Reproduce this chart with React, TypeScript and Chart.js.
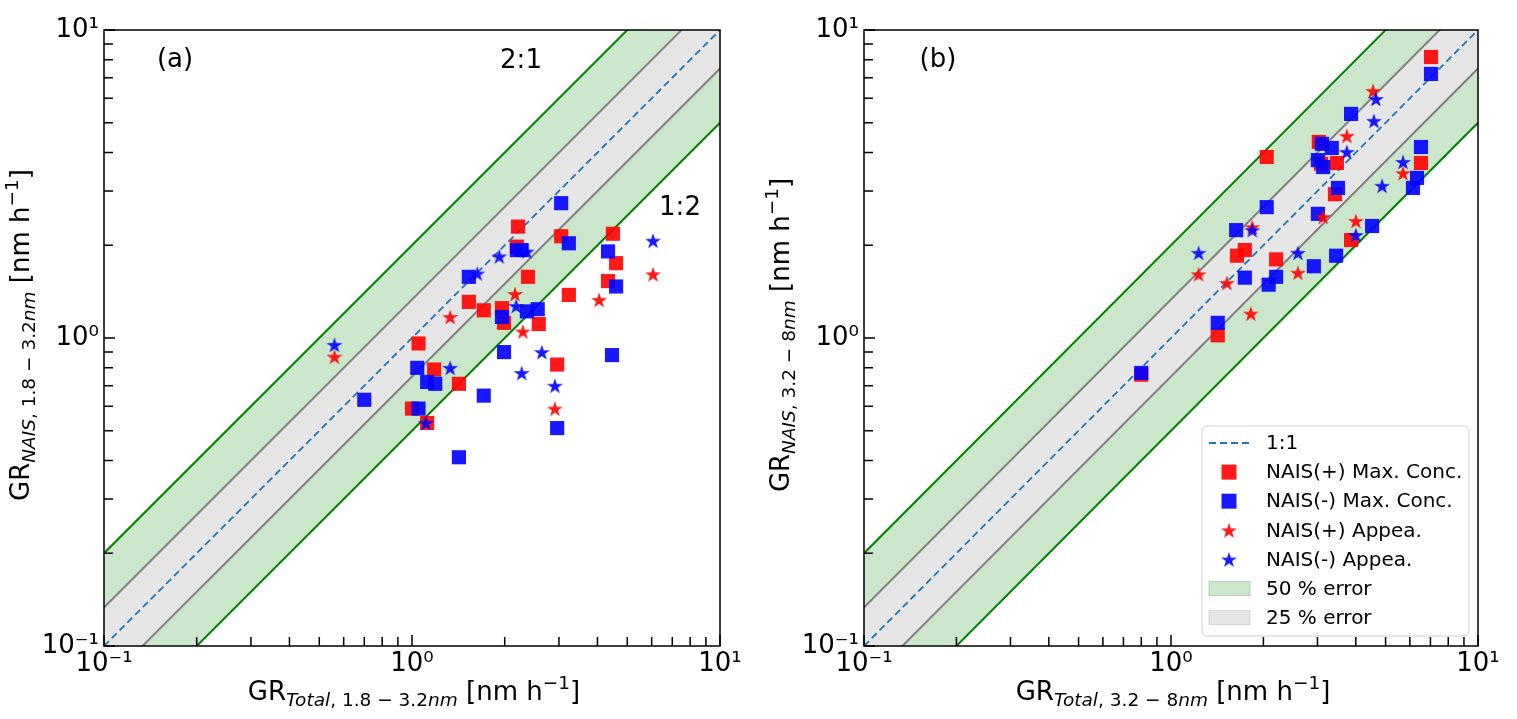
import { useEffect, useRef } from 'react';
import { Chart, registerables } from 'chart.js';

Chart.register(...registerables);
Chart.defaults.font.family = '"DejaVu Sans"';
Chart.defaults.color = '#000';

type Pt = [number, number];

// panel (a): 1.8 - 3.2 nm
const aRedSquares: Pt[] = [
  [1.05, 0.96], [1.18, 0.79], [1.42, 0.71], [1.0, 0.59], [1.12, 0.53], [2.21, 2.3], [2.19, 1.98],
  [3.05, 2.14], [2.38, 1.58], [1.53, 1.31], [1.71, 1.23], [1.96, 1.25], [1.99, 1.12], [2.58, 1.11],
  [4.49, 2.18], [4.6, 1.75], [4.33, 1.53], [3.23, 1.38], [2.96, 0.82],
];
const aBlueSquares: Pt[] = [
  [1.04, 0.8], [1.12, 0.72], [1.19, 0.71], [0.7, 0.63], [1.05, 0.59], [1.42, 0.41], [1.71, 0.65],
  [1.99, 0.9], [3.05, 2.74], [2.19, 1.93], [2.27, 1.93], [3.23, 2.03], [1.53, 1.58], [1.96, 1.17],
  [2.36, 1.22], [2.56, 1.24], [4.33, 1.91], [4.6, 1.47], [4.46, 0.88], [2.96, 0.51],
];
const aRedStars: Pt[] = [
  [0.56, 0.87], [2.16, 1.39], [1.33, 1.17], [2.29, 1.05], [4.05, 1.33], [6.06, 1.61], [2.91, 0.59],
];
const aBlueStars: Pt[] = [
  [0.56, 0.95], [1.33, 0.8], [1.11, 0.53], [2.36, 1.91], [1.92, 1.84], [1.63, 1.62], [2.18, 1.27],
  [6.06, 2.07], [2.64, 0.9], [2.27, 0.77], [2.91, 0.7],
];

// panel (b): 3.2 - 8 nm
const bRedSquares: Pt[] = [
  [7.03, 8.17], [3.03, 4.33], [3.47, 3.7], [3.08, 3.68], [2.05, 3.87], [3.42, 2.93], [6.52, 3.7],
  [3.86, 2.08], [1.64, 1.85], [1.74, 1.93], [2.2, 1.8], [1.42, 1.02], [0.8, 0.76],
];
const bBlueSquares: Pt[] = [
  [7.03, 7.2], [3.86, 5.34], [3.1, 4.27], [3.34, 4.14], [3.01, 3.78], [3.13, 3.59], [3.5, 3.07],
  [6.52, 4.17], [6.33, 3.31], [6.14, 3.07], [2.05, 2.66], [3.01, 2.53], [4.52, 2.31], [1.63, 2.24],
  [1.74, 1.57], [2.2, 1.58], [2.08, 1.49], [2.92, 1.71], [3.45, 1.85], [1.42, 1.12], [0.8, 0.77],
];
const bRedStars: Pt[] = [
  [4.55, 6.34], [3.74, 4.53], [5.7, 3.43], [3.13, 2.47], [4.0, 2.4], [1.84, 2.29], [1.23, 1.61],
  [1.52, 1.51], [2.59, 1.63], [1.82, 1.2],
];
const bBlueStars: Pt[] = [
  [4.65, 5.97], [4.58, 5.07], [3.74, 4.02], [5.7, 3.73], [4.87, 3.12], [4.0, 2.16], [1.84, 2.24],
  [1.23, 1.89], [2.59, 1.89],
];

const seriesNames = ['NAIS(+) Max. Conc.', 'NAIS(-) Max. Conc.', 'NAIS(+) Appea.', 'NAIS(-) Appea.'];
const bandNames = ['1:1', '50 % error', '25 % error'];

const tickValues = [0.1, 0.2, 0.3, 0.4, 0.5, 0.6, 0.7, 0.8, 0.9, 1, 2, 3, 4, 5, 6, 7, 8, 9, 10];
const majorTicks = [0.1, 1, 10];
const majorTickLabels = ['10⁻¹', '10⁰', '10¹'];

const lineX = [0.1, 10];
const halfError = [2, 0.5];
const quarterError = [1 / 0.75, 0.75];

const RED = 'rgba(255, 0, 0, 0.9)';
const BLUE = 'rgba(0, 0, 255, 0.9)';
const GREEN_FILL = 'rgba(0, 128, 0, 0.2)';
const GRAY_FILL = 'rgb(230, 230, 230)';
const GREEN_FILL_SOLID = 'rgb(204, 230, 204)';
const FONT = '"DejaVu Sans"';

interface Part { t: string; s: number; it?: boolean; dy?: number }

const mathTitle = (sub: string, range: string): Part[] => [
  { t: 'GR', s: 26 },
  { t: sub, s: 18.5, it: true, dy: 6 },
  { t: ', ' + range, s: 18.5, dy: 6 },
  { t: 'nm', s: 18.5, it: true, dy: 6 },
  { t: ' [nm h', s: 26 },
  { t: '−1', s: 18.5, dy: -11 },
  { t: ']', s: 26 },
];

function drawParts(ctx: CanvasRenderingContext2D, parts: Part[], cx: number, baseY: number) {
  const fontOf = (p: Part) => `${p.it ? 'italic ' : ''}${p.s}px ${FONT}`;
  const widths = parts.map((p) => {
    ctx.font = fontOf(p);
    return ctx.measureText(p.t).width;
  });
  let x = cx - widths.reduce((a, b) => a + b, 0) / 2;
  ctx.textAlign = 'left';
  ctx.textBaseline = 'alphabetic';
  parts.forEach((p, i) => {
    ctx.font = fontOf(p);
    ctx.fillText(p.t, x, baseY + (p.dy || 0));
    x += widths[i];
  });
}

function makeStar(color: string) {
  const c = document.createElement('canvas');
  c.width = 18;
  c.height = 18;
  const ctx = c.getContext('2d')!;
  const R = 8.4;
  const r = R * 0.382;
  ctx.beginPath();
  for (let i = 0; i < 10; i++) {
    const rad = i % 2 === 0 ? R : r;
    const a = -Math.PI / 2 + (i * Math.PI) / 5;
    const px = 9 + rad * Math.cos(a);
    const py = 9.8 + rad * Math.sin(a);
    if (i === 0) ctx.moveTo(px, py);
    else ctx.lineTo(px, py);
  }
  ctx.closePath();
  ctx.fillStyle = color;
  ctx.fill();
  return c;
}

interface Note { text: string; dx: number; dy: number }

interface PanelProps {
  left: number;
  width: number;
  areaLeft: number;
  padRight: number;
  series: Pt[][];
  xTitle: Part[];
  yTitle: Part[];
  notes: Note[];
  legend: boolean;
}

function Panel(props: PanelProps) {
  const canvasRef = useRef<HTMLCanvasElement | null>(null);

  useEffect(() => {
    if (!canvasRef.current) return;
    const redStar = makeStar(RED);
    const blueStar = makeStar(BLUE);
    const markerStyles: (string | HTMLCanvasElement)[] = ['rect', 'rect', redStar, blueStar];
    const markerColors = [RED, BLUE, RED, BLUE];

    const ratioLine = (k: number, color: string, order: number, fill: number | false, bg: string) => ({
      type: 'line' as const,
      data: lineX.map((x) => ({ x, y: k * x })),
      borderColor: color,
      borderWidth: 2,
      pointRadius: 0,
      tension: 0,
      fill,
      backgroundColor: bg,
      order,
    });

    const lines = [
      ratioLine(halfError[0], 'green', 6, 1, GREEN_FILL_SOLID),
      ratioLine(quarterError[0], 'gray', 5, 2, GRAY_FILL),
      ratioLine(quarterError[1], 'gray', 5, 3, GREEN_FILL_SOLID),
      ratioLine(halfError[1], 'green', 6, false, GREEN_FILL_SOLID),
      {
        ...ratioLine(1, '#1f77b4', 4, false, 'transparent'),
        borderWidth: 1.8,
        borderDash: [7, 4],
      },
    ];

    const scatters = props.series.map((pts, i) => ({
      type: 'scatter' as const,
      label: seriesNames[i],
      data: pts.map(([x, y]) => ({ x, y })),
      pointStyle: markerStyles[i],
      pointRadius: 10,
      pointHoverRadius: 10,
      backgroundColor: markerColors[i],
      borderWidth: 0,
      order: 3 - i,
    }));

    const tickCallback = (value: number | string) => {
      const idx = majorTicks.indexOf(Number(value));
      return idx >= 0 ? majorTickLabels[idx] : '';
    };
    const setTicks = (scale: any) => {
      scale.ticks = tickValues.map((v) => ({ value: v, major: majorTicks.includes(v) }));
    };

    const framePlugin = {
      id: 'frame',
      afterDatasetsDraw(chart: any) {
        const { ctx, chartArea: a, scales } = chart;
        ctx.save();
        ctx.strokeStyle = '#000';
        ctx.lineWidth = 1.5;
        // inward ticks on the left and bottom axes
        ctx.beginPath();
        scales.x.ticks.forEach((t: any) => {
          const px = scales.x.getPixelForValue(t.value);
          const len = t.major ? 11 : 9;
          ctx.moveTo(px, a.bottom);
          ctx.lineTo(px, a.bottom - len);
        });
        scales.y.ticks.forEach((t: any) => {
          const py = scales.y.getPixelForValue(t.value);
          const len = t.major ? 11 : 9;
          ctx.moveTo(a.left, py);
          ctx.lineTo(a.left + len, py);
        });
        ctx.stroke();
        ctx.strokeRect(a.left, a.top, a.right - a.left, a.bottom - a.top);

        ctx.fillStyle = '#000';
        ctx.font = `26px ${FONT}`;
        ctx.textAlign = 'center';
        ctx.textBaseline = 'middle';
        props.notes.forEach((n) => ctx.fillText(n.text, a.left + n.dx, a.top + n.dy));

        drawParts(ctx, props.xTitle, (a.left + a.right) / 2 + 2, 700);
        ctx.translate(a.left - 75, (a.top + a.bottom) / 2 - 3);
        ctx.rotate(-Math.PI / 2);
        drawParts(ctx, props.yTitle, 0, 0);
        ctx.restore();
      },
    };

    const legendPlugin = {
      id: 'panelLegend',
      afterDraw(chart: any) {
        if (!props.legend) return;
        const { ctx, chartArea: a } = chart;
        const x0 = a.right - 276;
        const y0 = a.bottom - 220;
        const w = 267;
        const h = 210;
        ctx.save();
        ctx.beginPath();
        ctx.roundRect(x0, y0, w, h, 5);
        ctx.fillStyle = 'rgba(255,255,255,0.8)';
        ctx.fill();
        ctx.strokeStyle = '#d0d0d0';
        ctx.lineWidth = 1;
        ctx.stroke();

        const rowY = (i: number) => y0 + 17 + i * 29.1;
        const hx = x0 + 27;
        const labels = [bandNames[0], ...seriesNames, bandNames[1], bandNames[2]];
        labels.forEach((label, i) => {
          const y = rowY(i);
          if (i === 0) {
            ctx.beginPath();
            ctx.setLineDash([7, 4]);
            ctx.strokeStyle = '#1f77b4';
            ctx.lineWidth = 1.8;
            ctx.moveTo(x0 + 7, y);
            ctx.lineTo(x0 + 48, y);
            ctx.stroke();
            ctx.setLineDash([]);
          } else if (i <= 4) {
            const style = markerStyles[i - 1];
            if (style === 'rect') {
              ctx.fillStyle = markerColors[i - 1];
              ctx.fillRect(hx - 7.5, y - 7.5, 15, 15);
            } else {
              const img = style as HTMLCanvasElement;
              ctx.drawImage(img, hx - img.width / 2, y - img.height / 2);
            }
          } else {
            ctx.fillStyle = i === 5 ? GREEN_FILL : 'rgba(128,128,128,0.2)';
            ctx.fillRect(x0 + 7, y - 7, 41, 14);
            ctx.strokeStyle = i === 5 ? 'rgba(0,128,0,0.25)' : 'rgba(128,128,128,0.25)';
            ctx.lineWidth = 1;
            ctx.strokeRect(x0 + 7, y - 7, 41, 14);
          }
          ctx.fillStyle = '#000';
          ctx.font = `20px ${FONT}`;
          ctx.textAlign = 'left';
          ctx.textBaseline = 'middle';
          ctx.fillText(label, x0 + 64, y + 1);
        });
        ctx.restore();
      },
    };

    const chart = new Chart(canvasRef.current, {
      type: 'scatter',
      data: { datasets: [...lines, ...scatters] as any },
      options: {
        responsive: false,
        animation: false,
        events: [],
        layout: { padding: { top: 30, right: props.padRight, left: 0, bottom: 0 } },
        plugins: {
          legend: { display: false },
          tooltip: { enabled: false },
          filler: { drawTime: 'beforeDatasetsDraw', propagate: false },
        },
        scales: {
          x: {
            type: 'logarithmic',
            min: 0.1,
            max: 10,
            afterBuildTicks: setTicks,
            afterFit: (s: any) => {
              s.height = 73;
            },
            grid: { display: false, drawTicks: false },
            border: { display: false },
            ticks: {
              autoSkip: false,
              maxRotation: 0,
              minRotation: 0,
              padding: 3,
              font: { size: 26 },
              color: '#000',
              callback: tickCallback,
            },
          },
          y: {
            type: 'logarithmic',
            min: 0.1,
            max: 10,
            afterBuildTicks: setTicks,
            afterFit: (s: any) => {
              s.width = props.areaLeft;
            },
            grid: { display: false, drawTicks: false },
            border: { display: false },
            ticks: {
              autoSkip: false,
              padding: 5,
              font: { size: 26 },
              color: '#000',
              callback: tickCallback,
            },
          },
        },
      },
      plugins: [framePlugin, legendPlugin],
    });

    return () => {
      chart.destroy();
    };
  }, []);

  return (
    <canvas
      ref={canvasRef}
      width={props.width}
      height={719}
      style={{ position: 'absolute', left: props.left, top: 0, width: props.width, height: 719 }}
    />
  );
}

export default function App() {
  return (
    <div style={{ position: 'absolute', left: 0, top: 0, width: 1517, height: 719, background: '#fff' }}>
      <Panel
        left={0}
        width={758}
        areaLeft={104}
        padRight={38}
        series={[aRedSquares, aBlueSquares, aRedStars, aBlueStars]}
        xTitle={mathTitle('Total', '1.8 − 3.2')}
        yTitle={mathTitle('NAIS', '1.8 − 3.2')}
        notes={[
          { text: '(a)', dx: 71, dy: 30 },
          { text: '2:1', dx: 417, dy: 31 },
          { text: '1:2', dx: 576, dy: 178 },
        ]}
        legend={false}
      />
      <Panel
        left={758}
        width={759}
        areaLeft={106}
        padRight={39}
        series={[bRedSquares, bBlueSquares, bRedStars, bBlueStars]}
        xTitle={mathTitle('Total', '3.2 − 8')}
        yTitle={mathTitle('NAIS', '3.2 − 8')}
        notes={[{ text: '(b)', dx: 74, dy: 30 }]}
        legend={true}
      />
    </div>
  );
}
